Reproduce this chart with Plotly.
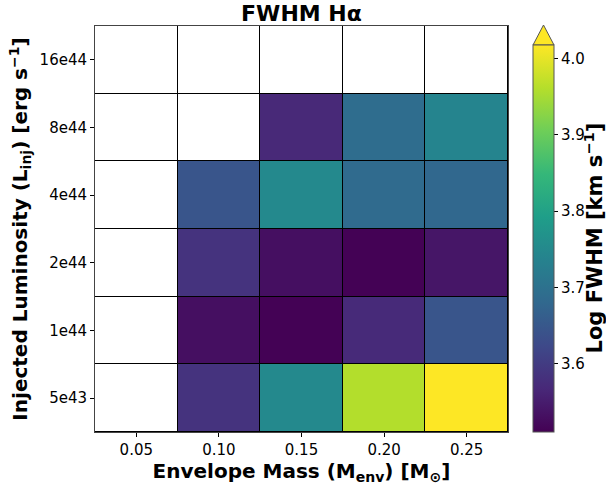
import plotly.graph_objects as go

masses = [0.05, 0.10, 0.15, 0.20, 0.25]
mass_labels = ["0.05", "0.10", "0.15", "0.20", "0.25"]
lum_labels = ["5e43", "1e44", "2e44", "4e44", "8e44", "16e44"]
# rows: luminosity (bottom to top), columns: mass
fwhm_log = [
    [None, 3.585, 3.750, 3.960, 4.050],   # 5e43
    [None, 3.530, 3.512, 3.570, 3.645],   # 1e44
    [None, 3.585, 3.530, 3.512, 3.540],   # 2e44
    [None, 3.645, 3.750, 3.685, 3.680],   # 4e44
    [None, None, 3.568, 3.690, 3.740],    # 8e44
    [None, None, None, None, None],       # 16e44
]
cmin, cmax = 3.51, 4.018
cbar_ticks = [3.6, 3.7, 3.8, 3.9, 4.0]

ys = list(range(len(lum_labels)))
missing = [[1 if v is None else None for v in row] for row in fwhm_log]

font = "DejaVu Sans"
L, R, T, B = 95, 98, 26, 53
W, H = 606, 485
pw, ph = W - L - R, H - T - B

fig = go.Figure()
fig.add_trace(go.Heatmap(
    x=masses, y=ys, z=fwhm_log, colorscale="Viridis", zmin=cmin, zmax=cmax,
    xgap=1, ygap=1,
    colorbar=dict(
        thickness=21, len=(ph - 19) / ph, lenmode="fraction",
        x=1 + (533 - (W - R)) / pw, xanchor="left", xpad=0,
        y=0, yanchor="bottom", ypad=0,
        outlinewidth=1, outlinecolor="#555",
        tickmode="array", tickvals=cbar_ticks,
        ticktext=[f"{v:.1f}" for v in cbar_ticks],
        ticks="outside", ticklen=4, tickcolor="black",
        tickfont=dict(family=font, size=15, color="black"),
    ),
))
fig.add_trace(go.Heatmap(
    x=masses, y=ys, z=missing, colorscale=[[0, "white"], [1, "white"]],
    showscale=False, xgap=1, ygap=1, hoverinfo="skip",
))

# extend-max triangle on colorbar
cx0 = 1 + (533 - (W - R)) / pw
cx1 = 1 + (554 - (W - R)) / pw
yb = 1 - 19 / ph
yt = 1 + 1 / ph
fig.add_shape(type="path", xref="paper", yref="paper",
              path=f"M {cx0} {yb} L {(cx0 + cx1) / 2} {yt} L {cx1} {yb} Z",
              fillcolor="#fde725", line=dict(color="#555", width=1))

# colorbar label
fig.add_annotation(
    text="<b>Log FWHM [km s<sup>−1</sup>]</b>", textangle=-90,
    xref="paper", yref="paper",
    x=1 + (593 - (W - R)) / pw, y=(ph - 19) / ph / 2,
    xanchor="center", yanchor="middle", showarrow=False,
    font=dict(family=font, size=21, color="black"),
)

fig.update_layout(
    width=W, height=H, margin=dict(l=L, r=R, t=T, b=B, autoexpand=False),
    paper_bgcolor="white", plot_bgcolor="black",
    title=dict(text="<b>FWHM Hα</b>", x=(L + pw / 2) / W, xanchor="center",
               y=1 - 13 / H, yanchor="middle",
               font=dict(family=font, size=22, color="black")),
    font=dict(family=font, color="black"),
)
fig.update_xaxes(
    tickmode="array", tickvals=masses, ticktext=mass_labels,
    range=[0.025, 0.275], showgrid=False, zeroline=False,
    ticks="outside", ticklen=4, tickcolor="black",
    showline=True, linecolor="#444", linewidth=1, mirror=True,
    tickfont=dict(family=font, size=15, color="black"),
    title=dict(text="<b>Envelope Mass (M<sub>env</sub>) [M<sub>⊙</sub>]</b>",
               font=dict(family=font, size=20, color="black"), standoff=4),
)
fig.update_yaxes(
    tickmode="array", tickvals=ys, ticktext=lum_labels,
    range=[-0.5, len(lum_labels) - 0.5], showgrid=False, zeroline=False,
    ticks="outside", ticklen=4, tickcolor="black",
    showline=True, linecolor="#444", linewidth=1, mirror=True,
    tickfont=dict(family=font, size=15, color="black"),
    title=dict(text="<b>Injected Luminosity (L<sub>inj</sub>) [erg s<sup>−1</sup>]</b>",
               font=dict(family=font, size=20, color="black"), standoff=6),
)

fig.write_html("out.html")
